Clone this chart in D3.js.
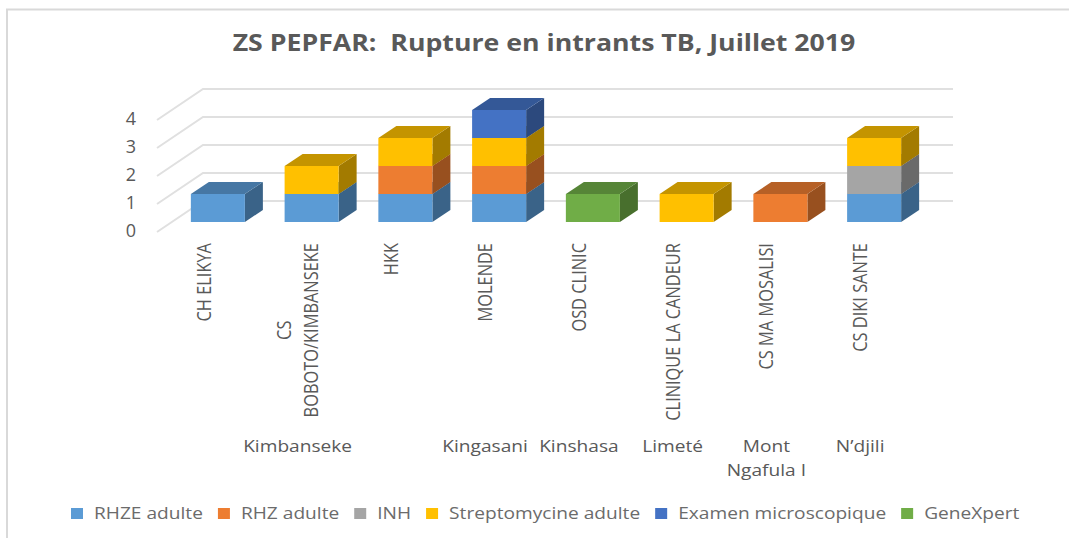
<!DOCTYPE html>
<html><head><meta charset="utf-8">
<script src="https://cdn.jsdelivr.net/npm/d3@7/dist/d3.min.js"></script>
<style>html,body{margin:0;padding:0;background:#fff}svg{display:block}text{font-family:"Open Sans",sans-serif}</style>
</head><body><svg id="c" width="1069" height="538"></svg>
<script>
const categories=["CH ELIKYA","CS|BOBOTO/KIMBANSEKE","HKK","MOLENDE","OSD CLINIC","CLINIQUE LA CANDEUR","CS MA MOSALISI","CS DIKI SANTE"];
const groupNames=["Kimbanseke","Kingasani","Kinshasa","Limeté","Mont|Ngafula I","N’djili"];
const groupFirst=[0,3,4,5,6,7];
const groupLast=[2,3,4,5,6,7];
const seriesNames=["RHZE adulte","RHZ adulte","INH","Streptomycine adulte","Examen microscopique","GeneXpert"];
const seriesColors=["#5b9bd5","#ed7d31","#a5a5a5","#ffc000","#4472c4","#70ad47"];
const rhze=[1,1,1,1,0,0,0,1];
const rhz=[0,0,1,1,0,0,1,0];
const inh=[0,0,0,0,0,0,0,1];
const strep=[0,1,1,1,0,1,0,1];
const exam=[0,0,0,1,0,0,0,0];
const gene=[0,0,0,0,1,0,0,0];
const yTicks=[0,1,2,3,4];
const title="ZS PEPFAR:  Rupture en intrants TB, Juillet 2019";

const seriesValues=[rhze,rhz,inh,strep,exam,gene];
const rows=categories.map((c,i)=>{const r={cat:c};seriesNames.forEach((s,j)=>r[s]=seriesValues[j][i]);return r;});
const stacked=d3.stack().keys(seriesNames)(rows);

const svg=d3.select("#c");
const x=d3.scaleBand().domain(categories).range([171,921]).paddingInner(0.4237).paddingOuter(0.2118);
const y=d3.scaleLinear().domain([0,4]).range([232,120]);
const wallDx=46,wallDy=-31,barLift=-10,depthX=18,depthY=-12;
const wallLeft=157,wallRight=953;
const shade=(c,k)=>{const r=d3.rgb(c);return d3.rgb(r.r*k,r.g*k,r.b*k).formatHex();};

// frame
svg.append("path").attr("d","M7,538V9.5H1069").attr("fill","none").attr("stroke","#d9d9d9").attr("stroke-width",2);

// title
function fitText(sel,target){const len=sel.node().getComputedTextLength();return target/len;}
const t=svg.append("text").attr("text-anchor","middle").attr("font-size",23).attr("font-weight",700).attr("fill","#595959").attr("xml:space","preserve").style("white-space","pre").text(title);
t.attr("transform",`translate(544,51) scale(${fitText(t,623)},1)`);

// grid
const grid=svg.append("g").attr("fill","none").attr("stroke","#e0e0e0").attr("stroke-width",2);
yTicks.forEach(v=>{
  grid.append("path").attr("d",d3.line()([[wallLeft,y(v)],[wallLeft+wallDx,y(v)+wallDy],[wallRight,y(v)+wallDy]]));
});
// y tick labels
svg.append("g").selectAll("text").data(yTicks).join("text")
  .attr("x",136).attr("y",d=>y(d)+5).attr("text-anchor","end").attr("font-size",18).attr("fill","#595959").text(d=>d);

// bars
const bars=svg.append("g");
const yb=v=>y(v)+barLift;
stacked.forEach((layer,si)=>{
  const col=seriesColors[si];
  layer.forEach(d=>{
    if(d[1]-d[0]<=0)return;
    const x0=x(d.data.cat),w=x.bandwidth(),t=yb(d[1]),b=yb(d[0]);
    const g=bars.append("g");
    g.append("path").attr("fill",shade(col,.64)).attr("d",d3.line()([[x0+w,t],[x0+w+depthX,t+depthY],[x0+w+depthX,b+depthY],[x0+w,b]])+"Z");
    g.append("path").attr("fill",shade(col,.77)).attr("d",d3.line()([[x0,t],[x0+depthX,t+depthY],[x0+w+depthX,t+depthY],[x0+w,t]])+"Z");
    g.append("rect").attr("x",x0).attr("y",t).attr("width",w).attr("height",b-t).attr("fill",col);
  });
});

// rotated category labels
const labelOffset=-14,labelTop=243,labelScale=0.8,lineGap=27;
categories.forEach(c=>{
  const cx=x(c)+x.bandwidth()/2+labelOffset;
  const lines=c.split("|");
  const g=svg.append("g");
  const nodes=lines.map(l=>g.append("text").attr("font-size",20.5).attr("fill","#595959").attr("text-anchor","middle").text(l));
  const maxLen=d3.max(nodes,n=>n.node().getComputedTextLength())*labelScale;
  nodes.forEach((n,i)=>{
    const lx=cx+(i-(lines.length-1)/2)*lineGap+7;
    n.attr("transform",`translate(${lx},${labelTop+maxLen/2}) rotate(-90) scale(${labelScale},1)`);
  });
});

// group labels
const wideScale=1.16;
groupNames.forEach((name,i)=>{
  const c0=x(categories[groupFirst[i]]),c1=x(categories[groupLast[i]]);
  const cx=(c0+c1)/2+x.bandwidth()/2+labelOffset;
  name.split("|").forEach((l,j)=>{
    svg.append("text").attr("font-size",16.5).attr("fill","#595959").attr("text-anchor","middle")
      .attr("transform",`translate(${cx},${452+j*24}) scale(${wideScale},1)`).text(l);
  });
});

// legend
const legend=svg.append("g");
let lx=71;
seriesNames.forEach((s,i)=>{
  legend.append("rect").attr("x",lx).attr("y",508).attr("width",12).attr("height",11).attr("fill",seriesColors[i]);
  const tx=legend.append("text").attr("font-size",16.5).attr("fill","#6b6b6b").text(s);
  tx.attr("transform",`translate(${lx+23},519) scale(${wideScale},1)`);
  lx+=23+tx.node().getComputedTextLength()*wideScale+15;
});
</script></body></html>
